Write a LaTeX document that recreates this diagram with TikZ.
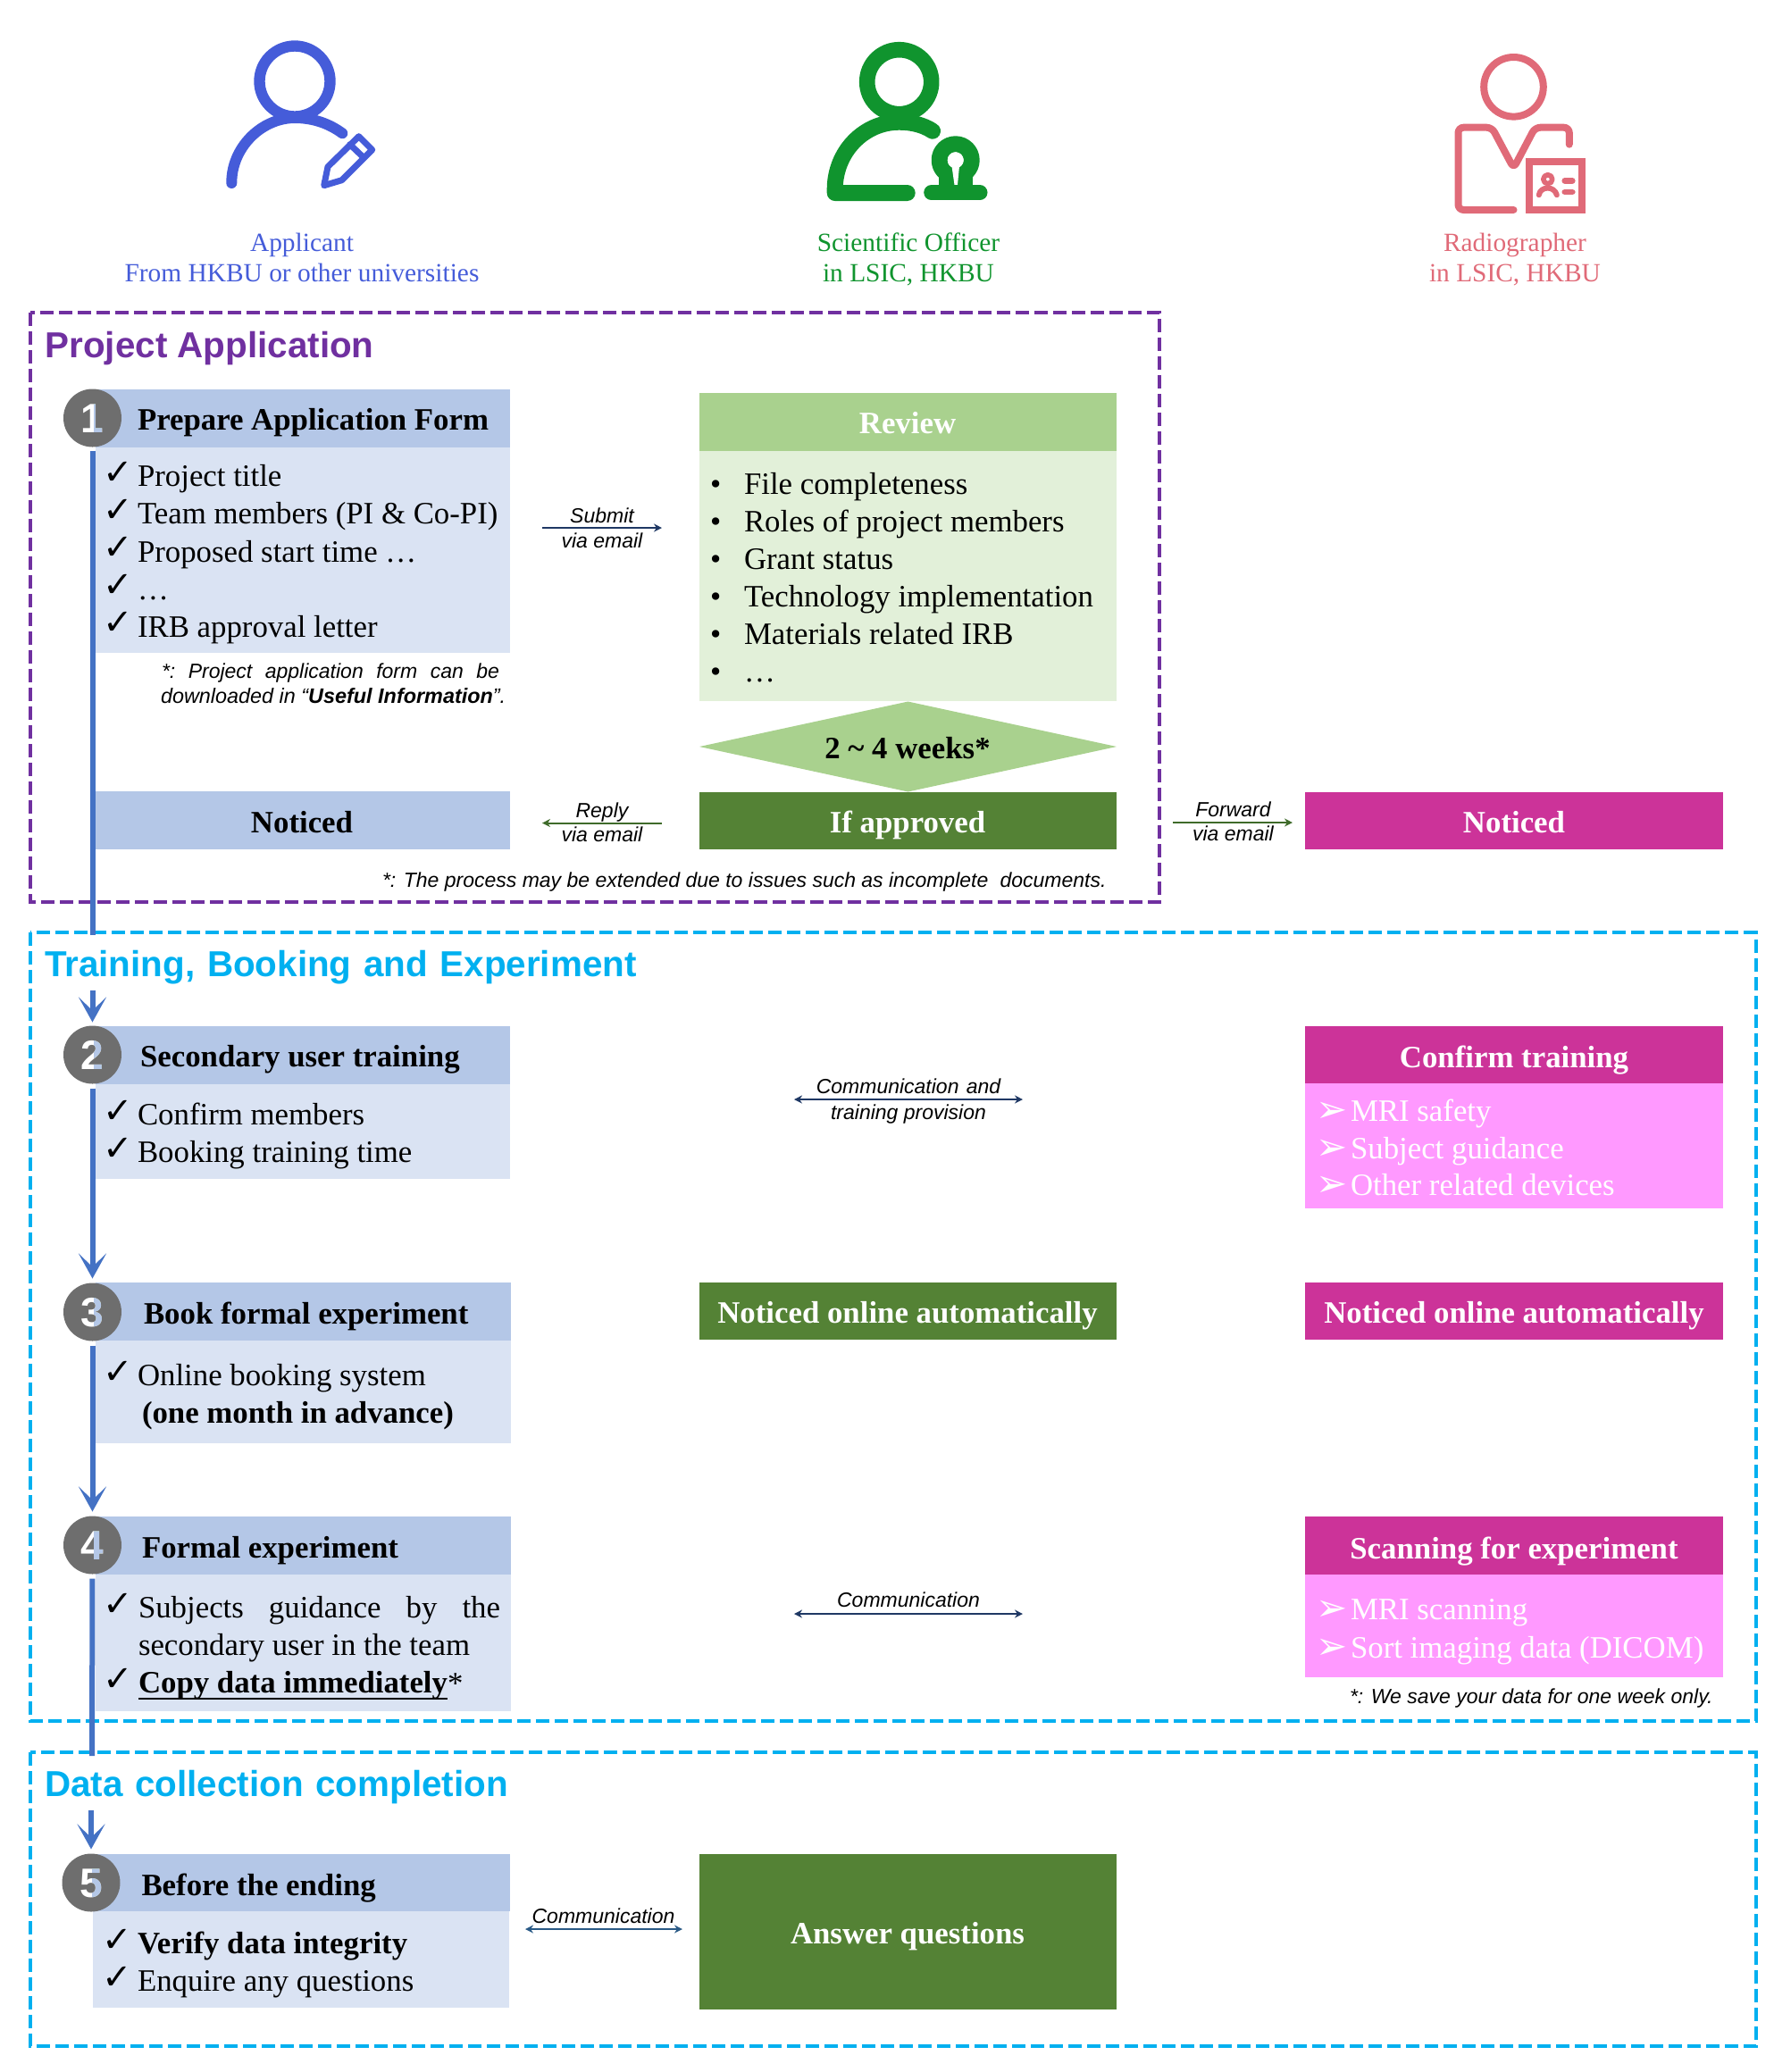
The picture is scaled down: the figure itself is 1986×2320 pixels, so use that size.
\documentclass[tikz,border=0pt]{standalone}
\usepackage{fontspec}
\setmainfont{Liberation Serif}
\setsansfont{Liberation Sans}
\newfontfamily\symfont{DejaVu Sans}
\usetikzlibrary{arrows.meta,shapes.geometric}
\definecolor{hdblue}{HTML}{B4C7E7}
\definecolor{bdblue}{HTML}{DAE3F3}
\definecolor{hdgreen}{HTML}{A9D18E}
\definecolor{bdgreen}{HTML}{E2F0D9}
\definecolor{dkgreen}{HTML}{548235}
\definecolor{mag}{HTML}{CC3399}
\definecolor{pinkb}{HTML}{FF99FF}
\definecolor{purp}{HTML}{7030A0}
\definecolor{cyanb}{HTML}{00B0F0}
\definecolor{flow}{HTML}{4472C4}
\definecolor{stepgray}{HTML}{6E6E6E}
\definecolor{icblue}{HTML}{455CD9}
\definecolor{icgreen}{HTML}{10942E}
\definecolor{icred}{HTML}{E06A78}
\definecolor{navy}{HTML}{1F3864}
\definecolor{leaf}{HTML}{3F6B2A}
\definecolor{steel}{HTML}{2A5A86}
\newcommand\bx[6]{%
  \pgfmathsetmacro\bw{(#5-#3)*0.5}\pgfmathsetmacro\bh{(#6-#4)*0.5}%
  \node[boxn,fill=#2,minimum width=\bw pt,minimum height=\bh pt] (#1) at ({(#3+#5)/2},{(#4+#6)/2}) {};}
\newcommand\stepc[4]{% name x y digit
  \node[stepn] (#1) at (#2,#3) {};
  \node[stepnum] (#1n) at (#2,#3+16) {#4};
  \fill[hdblue,blend mode=darken] (#2+1,#3-24) rectangle (#2+24,#3+24);}
\newcommand\ck[3]{\node[tl,font=\symfont\fontsize{20}{22}\selectfont] (#1) at (#2-2,#3+1) {✓};}
\newcommand\arw[3]{\node[tl,white,font=\symfont\fontsize{21}{22}\selectfont] (#1) at (#2-4,#3+2) {➢};}
\newcommand\sw{\hspace{1.2pt}}
\tikzset{
  boxn/.style={inner sep=0,outer sep=0,draw=none},
  stepn/.style={ellipse,fill=stepgray,inner sep=0,outer sep=0,minimum width=32.5pt,minimum height=32.5pt},
  stepnum/.style={anchor=base,inner sep=0,white,font=\sffamily\bfseries\fontsize{23}{24}\selectfont},
  tl/.style={anchor=base west,inner sep=0,outer sep=0},
  tc/.style={anchor=base,inner sep=0,outer sep=0},
  hd/.style={yshift=-0.6pt,font=\bfseries\fontsize{17.4}{20}\selectfont},
  bd/.style={yshift=-0.6pt,font=\fontsize{17.4}{20}\selectfont},
  lab/.style={font=\sffamily\itshape\fontsize{11.5}{13}\selectfont},
  nte/.style={font=\sffamily\itshape\fontsize{11.7}{13}\selectfont},
  sec/.style={yshift=-0.6pt,font=\sffamily\bfseries\fontsize{20.2}{24}\selectfont},
  who/.style={font=\fontsize{14.7}{18}\selectfont},
  dashbox/.style={line width=2pt,dash pattern=on 7.5pt off 3pt},
  flowl/.style={flow,line width=3pt},
  flowa/.style={flow,line width=3pt,-{Stealth[length=14pt,width=15.5pt,inset=7.5pt]}},
  smalla/.style={line width=1pt,-{Stealth[length=4.5pt,width=4.5pt]}},
  smallb/.style={line width=1pt,{Stealth[length=4.5pt,width=4.5pt]}-{Stealth[length=4.5pt,width=4.5pt]}},
}
\begin{document}
\begin{tikzpicture}[x=0.5pt,y=-0.5pt]
\path[use as bounding box] (0,0) rectangle (1986,2320);

% --- icons
\begin{scope}[icblue,line cap=round,line join=round]
 \draw[line width=6.2pt] (330,91) circle [radius=39.5];
 \draw[line width=6pt] (259.3,205) .. controls (259,165) and (293,132) .. (330,132) .. controls (350,132) and (368,138) .. (383.3,149.3);
 \draw[line width=3.5pt] (362.7,207.7) -- (367,186.7) -- (401.7,152.7) -- (416.7,167.7) -- (382.7,201.7) -- cycle;
 \draw[line width=3.5pt] (391.7,161.7) -- (406.7,176);
\end{scope}
\begin{scope}[xshift=-0.5pt,icgreen,line cap=round,line join=round]
 \draw[line width=8.8pt] (1007.7,91.7) circle [radius=36];
 \draw[line width=9pt] (1045,146.7) .. controls (1035,140) and (1022,136.7) .. (1007.7,136.7) .. controls (968,136.7) and (935.7,170) .. (935.7,212) -- (935.7,216) -- (1016.7,216);
 \draw[line width=9pt] (1070.7,179.3) circle [radius=18];
 \fill (1052,190) rectangle (1090,212);
 \fill[white] (1066.5,186) -- (1075,186) -- (1073,207) -- (1069.5,207) -- cycle;
 \fill[white] (1070.7,179.3) circle [radius=9];
 \draw[line width=8.5pt] (1043.7,215.7) -- (1098,215.7);
\end{scope}
\begin{scope}[xshift=-0.75pt,icred,line cap=round,line join=round]
 \draw[line width=4pt] (1696,97.3) circle [radius=33.3];
 \draw[line width=4pt] (1696,235) -- (1640,235) [rounded corners=3pt] -- (1634,235) -- (1634,142.7) -- (1671.7,142.7) -- (1696,188.3) -- (1720,142.7) -- (1758.3,142.7) -- (1758.3,161.7);
 \draw[line width=4pt,line cap=butt,line join=miter] (1713.3,180.7) rectangle (1772.3,235.3);
 \draw[line width=2.8pt] (1734.3,200.7) circle [radius=5];
 \draw[line width=3pt] (1724.3,218.3) .. controls (1726,208) and (1742,208) .. (1744.3,218.3);
 \draw[line width=3.4pt] (1753.3,202.3) -- (1761.7,202.3);
 \draw[line width=3.4pt] (1753.3,215) -- (1761.7,215);
\end{scope}

\node[tc,who,icblue] (wa1) at (338,281) {Applicant};
\node[tc,who,icblue] (wa2) at (338,315) {From HKBU or other universities};
\node[tc,who,icgreen] (wb1) at (1017,281) {Scientific Officer};
\node[tc,who,icgreen] (wb2) at (1017,315) {in LSIC, HKBU};
\node[tc,who,icred] (wc1) at (1696,281) {Radiographer};
\node[tc,who,icred] (wc2) at (1696,315) {in LSIC, HKBU};

% --- dashed frames
\draw[purp,dashbox] (34,350) rectangle (1298,1010);
\draw[cyanb,dashbox] (34,1044) rectangle (1965.5,1927);
\draw[cyanb,dashbox] (34,1962) rectangle (1965.5,2291);
\node[tl,sec,purp] (s1) at (50.5,399) {Project Application};
\node[tl,sec,cyanb] (s2) at (50,1092) {Training,\sw{} Booking\sw{} and\sw{} Experiment};
\node[tl,sec,cyanb] (s3) at (50,2010) {Data\sw{} collection\sw{} completion};

% --- boxes, left column
\bx{h1}{hdblue}{107}{436}{571}{501}
\bx{b1}{bdblue}{107}{501}{571}{731}
\bx{n1}{hdblue}{107}{886}{571}{951}
\bx{h2}{hdblue}{107}{1149}{571}{1213.5}
\bx{b2}{bdblue}{107}{1213.5}{571}{1320}
\bx{h3}{hdblue}{107}{1436}{572}{1501}
\bx{b3}{bdblue}{107}{1501}{572}{1616}
\bx{h4}{hdblue}{107}{1698}{572}{1763}
\bx{b4}{bdblue}{107}{1763}{572}{1915.5}
\bx{h5}{hdblue}{104}{2076}{571}{2140}
\bx{b5}{bdblue}{104}{2140}{570}{2248}

% --- boxes, middle column
\bx{r1}{hdgreen}{783}{440}{1250}{505}
\bx{r2}{bdgreen}{783}{505}{1250}{785}
\node[diamond,fill=hdgreen,inner sep=0,outer sep=0,aspect=4.6,minimum width=233.5pt,minimum height=50.5pt] (dia) at (1016.5,836) {};
\bx{appr}{dkgreen}{783}{887}{1250}{951}
\bx{mid3}{dkgreen}{783}{1436}{1250}{1500}
\bx{ans}{dkgreen}{783}{2076}{1250}{2250}

% --- boxes, right column
\bx{rn}{mag}{1461}{887}{1929}{951}
\bx{rh2}{mag}{1461}{1149}{1929}{1213}
\bx{rb2}{pinkb}{1461}{1213}{1929}{1353}
\bx{rn3}{mag}{1461}{1436}{1929}{1500}
\bx{rh4}{mag}{1461}{1698}{1929}{1763}
\bx{rb4}{pinkb}{1461}{1763}{1929}{1878}

% --- step circles
\stepc{c1}{103.5}{468}{1}
\stepc{c2}{103.5}{1181}{2}
\stepc{c3}{103.5}{1469}{3}
\stepc{c4}{103.5}{1730}{4}
\stepc{c5}{102}{2108}{5}

% --- flow connectors
\coordinate (e1) at (103.5,1047);
\coordinate (a2) at (103.5,1108.5);
\coordinate (e4) at (103,1966);
\coordinate (a5) at (102,2027);
\draw[flowl,shorten <=2pt] (c1.south) -- (e1);
\draw[flowa,shorten >=2pt] (a2) -- (c2.north);
\draw[flowa,shorten <=2.5pt,shorten >=2.5pt] (c2.south) -- (c3.north);
\draw[flowa,shorten <=2.5pt,shorten >=2.5pt] (c3.south) -- (c4.north);
\draw[flowl,shorten <=2.5pt] (c4.south) -- (e4);
\draw[flowa,shorten >=2.5pt] (a5) -- (c5.north);

% --- small arrows
\coordinate (sa1) at (607,591); \coordinate (sa2) at (741,591);
\coordinate (ra1) at (741,921.5); \coordinate (ra2) at (607,921.5);
\coordinate (fa1) at (1313,921); \coordinate (fa2) at (1447,921);
\coordinate (ct1) at (889,1231); \coordinate (ct2) at (1145,1231);
\coordinate (cm1) at (889,1807); \coordinate (cm2) at (1145,1807);
\coordinate (cq1) at (588,2160); \coordinate (cq2) at (764,2160);
\draw[smalla,navy] (sa1) -- (sa2);
\draw[smalla,leaf] (ra1) -- (ra2);
\draw[smalla,leaf] (fa1) -- (fa2);
\draw[smallb,navy] (ct1) -- (ct2);
\draw[smallb,navy] (cm1) -- (cm2);
\draw[smallb,steel] (cq1) -- (cq2);

\node[tc,lab] (l1) at (674,585.5) {Submit};
\node[tc,lab] (l2) at (674,613.5) {via email};
\node[tc,lab] (l3) at (674,915) {Reply};
\node[tc,lab] (l4) at (674,942) {via email};
\node[tc,lab] (l5) at (1380.5,914) {Forward};
\node[tc,lab] (l6) at (1380.5,941.5) {via email};
\node[tc,lab] (l7) at (1017,1224.5) {Communication\hspace{0.08em} and};
\node[tc,lab] (l8) at (1017,1253) {training provision};
\node[tc,lab] (l9) at (1017,1799) {Communication};
\node[tc,lab] (l10) at (675.5,2153.5) {Communication};

% --- step 1 text
\node[tl,hd] (t1) at (154,480) {Prepare Application Form};
\ck{k11}{117}{541}\node[tl,bd] (i11) at (154,543) {Project title};
\ck{k12}{117}{583}\node[tl,bd] (i12) at (154,585.5) {Team members (PI \& Co-PI)};
\ck{k13}{117}{625}\node[tl,bd] (i13) at (154,628) {Proposed start time …};
\ck{k14}{117}{667}\node[tl,bd] (i14) at (154,670) {…};
\ck{k15}{117}{709}\node[tl,bd] (i15) at (154,712) {IRB approval letter};
\node[tl,lab] (nt1) at (181,759) {\makebox[189pt][s]{*:\hfill Project\hfill application\hfill form\hfill can\hfill be}};
\node[tl,nte] (nt2) at (180,787) {downloaded in “\textbf{Useful Information}”.};
\node[tc,hd] (t1b) at (338,931) {Noticed};

% --- review text
\node[tc,hd,white] (tr) at (1016,484) {Review};
\node[tl,bd] (m1b) at (795,552.5) {•};\node[tl,bd] (m1) at (833,552.5) {File completeness};
\node[tl,bd] (m2b) at (795,594.5) {•};\node[tl,bd] (m2) at (833,594.5) {Roles of project members};
\node[tl,bd] (m3b) at (795,636.5) {•};\node[tl,bd] (m3) at (833,636.5) {Grant status};
\node[tl,bd] (m4b) at (795,678.5) {•};\node[tl,bd] (m4) at (833,678.5) {Technology implementation};
\node[tl,bd] (m5b) at (795,720.5) {•};\node[tl,bd] (m5) at (833,720.5) {Materials related IRB};
\node[tl,bd] (m6b) at (795,762.5) {•};\node[tl,bd] (m6) at (833,762.5) {…};
\node[tc,hd] (tw) at (1016,848) {2 \textasciitilde{} 4 weeks*};
\node[tc,hd,white] (ta) at (1016,931) {If approved};
\node[tc,hd,white] (tn) at (1695,931) {Noticed};
\node[tl,lab] (nt3) at (428,993) {*: The process may be extended due to issues such as incomplete\hspace{0.3em} documents.};

% --- step 2
\node[tl,hd] (t2) at (157,1193) {Secondary user training};
\ck{k21}{117}{1256}\node[tl,bd] (i21) at (154,1258) {Confirm members};
\ck{k22}{117}{1298}\node[tl,bd] (i22) at (154,1300) {Booking training time};
\node[tc,hd,white] (tc2) at (1695,1194) {Confirm training};
\arw{p21}{1477}{1254}\node[tl,bd,white] (q21) at (1512,1254) {MRI safety};
\arw{p22}{1477}{1296}\node[tl,bd,white] (q22) at (1512,1296) {Subject guidance};
\arw{p23}{1477}{1337.5}\node[tl,bd,white] (q23) at (1512,1337.5) {Other related devices};

% --- step 3
\node[tl,hd] (t3) at (161,1481) {Book formal experiment};
\ck{k31}{117}{1548}\node[tl,bd] (i31) at (154,1550) {Online booking system};
\node[tl,hd] (i32) at (159,1592) {(one month in advance)};
\node[tc,hd,white] (tm3) at (1016,1480) {Noticed online automatically};
\node[tc,hd,white] (tr3) at (1695,1480) {Noticed online automatically};

% --- step 4
\node[tl,hd] (t4) at (159,1743) {Formal experiment};
\ck{k41}{117}{1808}\node[tl,bd] (i41) at (155,1810) {\makebox[202.5pt][s]{Subjects\hfill guidance\hfill by\hfill the}};
\node[tl,bd] (i42) at (155,1852) {secondary user in the team};
\ck{k42}{117}{1892}\node[tl,hd] (i43) at (155,1894) {Copy data immediately};
\node[tl,bd] (i43s) at (i43.base east) {*};
\draw[black,line width=1pt] ([yshift=-3.5pt]i43.base west) -- ([yshift=-3.5pt]i43.base east);
\node[tc,hd,white] (tr4) at (1695,1744) {Scanning for experiment};
\arw{p41}{1477}{1812.5}\node[tl,bd,white] (q41) at (1512,1812.5) {MRI scanning};
\arw{p42}{1477}{1855}\node[tl,bd,white] (q42) at (1512,1855) {Sort imaging data (DICOM)};
\node[tl,lab] (nt4) at (1511,1907) {*: We save your data for one week only.};

% --- step 5
\node[tl,hd] (t5) at (158.5,2121) {Before the ending};
\ck{k51}{116}{2184}\node[tl,hd] (i51) at (154,2186) {Verify data integrity};
\ck{k52}{116}{2226}\node[tl,bd] (i52) at (154,2228) {Enquire any questions};
\node[tc,hd,white] (tans) at (1016,2175) {Answer questions};
\end{tikzpicture}
\end{document}
